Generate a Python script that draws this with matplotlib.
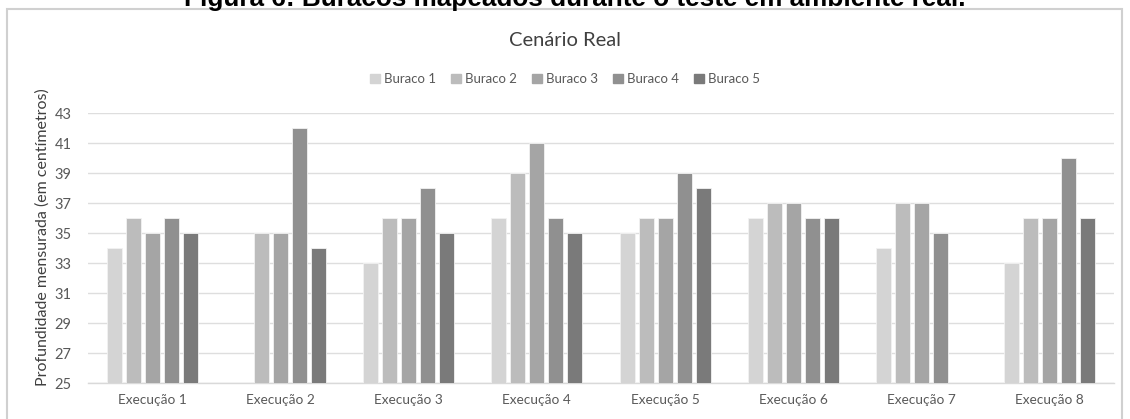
import matplotlib.pyplot as plt
import matplotlib.patches as mpatches
import numpy as np

# profundidade medida em cada execucao (nan = buraco nao detectado)
execucoes = ['Execução 1', 'Execução 2', 'Execução 3', 'Execução 4',
             'Execução 5', 'Execução 6', 'Execução 7', 'Execução 8']
buraco1 = [34, np.nan, 33, 36, 35, 36, 34, 33]
buraco2 = [36, 35, 36, 39, 36, 37, 37, 36]
buraco3 = [35, 35, 36, 41, 36, 37, 37, 36]
buraco4 = [36, 42, 38, 36, 39, 36, 35, 40]
buraco5 = [35, 34, 35, 35, 38, 36, np.nan, 36]
series = [buraco1, buraco2, buraco3, buraco4, buraco5]
nomes = ['Buraco 1', 'Buraco 2', 'Buraco 3', 'Buraco 4', 'Buraco 5']
cores = ['#d4d4d4', '#bcbcbc', '#a5a5a5', '#909090', '#7a7a7a']

plt.rcParams['font.family'] = ['Lato', 'DejaVu Sans']
txt = '#595959'

fig = plt.figure(figsize=(11.3, 4.19), dpi=100)
fig.patch.set_facecolor('white')

# moldura do grafico
frame = mpatches.Rectangle((7/1130, -0.1), (1122-7)/1130, 1 - 9.5/419 + 0.1,
                           transform=fig.transFigure, fill=False,
                           edgecolor='#d0d0d0', linewidth=1.5)
fig.patches.append(frame)

# legenda da figura (cortada no topo)
fig.text(575/1130, 1 - 6/419, 'Figura 6: Buracos mapeados durante o teste em ambiente real.',
         ha='center', va='baseline', fontsize=18.8, fontweight='bold',
         family=['Liberation Sans', 'DejaVu Sans'], color='black')

ax = fig.add_axes([88/1130, 1 - 383/419, (1114-88)/1130, (383-113)/419])

x = np.arange(len(execucoes))
slot = 0.148
largura = 0.118
for i, (vals, nome, cor) in enumerate(zip(series, nomes, cores)):
    ax.bar(x + (i - 2) * slot, np.array(vals) - 25, width=largura, bottom=25,
           color=cor, label=nome, edgecolor='#f2f2f2', linewidth=0.6, zorder=3)

ax.set_xlim(-0.5, 7.5)
ax.set_ylim(25, 43)
ax.set_yticks(range(25, 44, 2))
ax.set_xticks(x)
ax.set_xticklabels(execucoes)
ax.tick_params(axis='both', length=0, colors=txt)
ax.tick_params(axis='x', pad=8, labelsize=9.8)
ax.tick_params(axis='y', pad=12, labelsize=10.5)
ax.grid(axis='y', color='#dedede', linewidth=1, zorder=0)
for s in ['top', 'right', 'left']:
    ax.spines[s].set_visible(False)
ax.spines['bottom'].set_color('#d9d9d9')
ax.spines['bottom'].set_linewidth(1)
ax.set_ylabel('Profundidade mensurada (em centímetros)', color='#404040',
              fontsize=11.5, labelpad=2)
ax.yaxis.set_label_coords(-0.037, 0.54)

fig.text(0.5, 1 - 40/419, 'Cenário Real', ha='center', va='center',
         fontsize=14.5, color='#404040')

handles = [mpatches.Patch(color=c) for c in cores]
fig.legend(handles, nomes, loc='center', bbox_to_anchor=(0.5, 1 - 79/419), ncol=5,
           frameon=False, fontsize=9.5, handlelength=0.7, handleheight=0.7,
           handletextpad=0.3, columnspacing=1.2, labelcolor=txt)

fig.savefig('out.png', dpi=100)
